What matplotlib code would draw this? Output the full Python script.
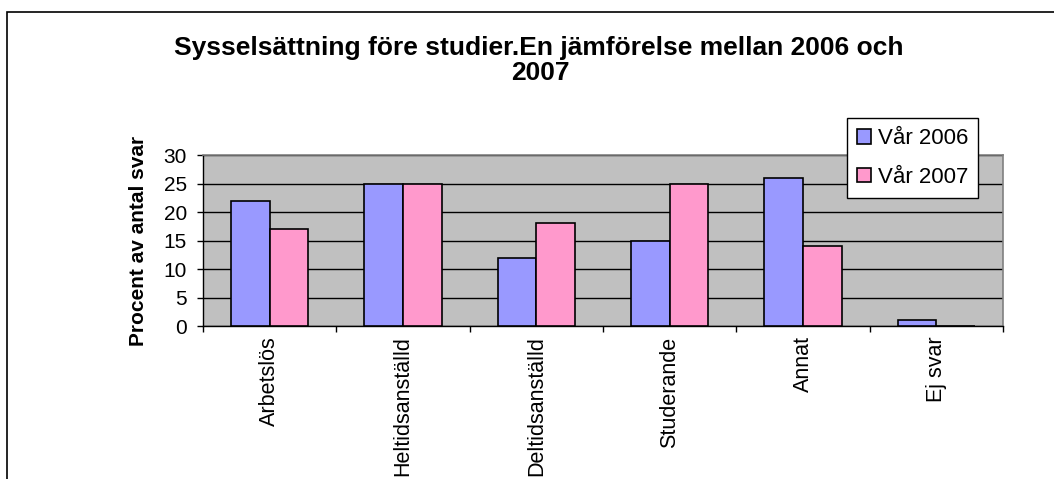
import numpy as np
import matplotlib.pyplot as plt
from matplotlib.patches import Rectangle

plt.rcParams['font.family'] = ['Liberation Sans', 'DejaVu Sans']

# ---------------------------------------------------------
# Data
# ---------------------------------------------------------
categories = ['Arbetslös', 'Heltidsanställd', 'Deltidsanställd', 'Studerande', 'Annat', 'Ej svar']
var_2006 = [22, 25, 12, 15, 26, 1]
var_2007 = [17, 25, 18, 25, 14, 0]
series_names = ['Vår 2006', 'Vår 2007']
colors = ['#9999FF', '#FF99CC']
yticks = [0, 5, 10, 15, 20, 25, 30]

# ---------------------------------------------------------
# Figure
# ---------------------------------------------------------
fig = plt.figure(figsize=(10.54, 4.79), dpi=100)
ax = fig.add_axes([0.1926, 0.3194, 0.759, 0.357])

x = np.arange(len(categories))
bar_width = 0.29
b1 = ax.bar(x - bar_width / 2, var_2006, bar_width, color=colors[0],
            edgecolor='black', linewidth=1.2, label=series_names[0], zorder=3)
b2 = ax.bar(x + bar_width / 2, var_2007, bar_width, color=colors[1],
            edgecolor='black', linewidth=1.2, label=series_names[1], zorder=3)

ax.set_facecolor('#C0C0C0')
ax.set_xlim(-0.5, len(categories) - 0.5)
ax.set_ylim(0, 30)
ax.set_yticks(yticks)
ax.tick_params(axis='y', labelsize=15, length=4.5, width=1, direction='out', pad=7)
ax.yaxis.grid(True, color='black', linewidth=1, zorder=1)

# category labels centered, ticks at category boundaries
ax.set_xticks(np.arange(len(categories) + 1) - 0.5)
ax.set_xticklabels([])
ax.set_xticks(x, minor=True)
ax.set_xticklabels(categories, minor=True, rotation=90, fontsize=15.5, va='top')
ax.tick_params(axis='x', which='major', length=4.5, width=1, direction='out')
ax.tick_params(axis='x', which='minor', length=0, pad=7.5)

for side in ['top', 'right']:
    ax.spines[side].set_color('#808080')
    ax.spines[side].set_linewidth(1.2)
for side in ['left', 'bottom']:
    ax.spines[side].set_color('black')
    ax.spines[side].set_linewidth(1)

ax.set_ylabel('Procent av antal svar', fontsize=15, fontweight='bold', labelpad=11)

fig.text(0.5114, 1 - 55 / 479, 'Sysselsättning före studier.En jämförelse mellan 2006 och',
         ha='center', va='baseline', fontsize=19, fontweight='bold')
fig.text(0.5124, 1 - 80.5 / 479, '2007', ha='center', va='baseline', fontsize=19, fontweight='bold')

leg = fig.legend(handles=[b1, b2], labels=series_names, loc='upper left',
                 bbox_to_anchor=(847 / 1054, 1 - 118 / 479), fontsize=16, frameon=True,
                 fancybox=False, edgecolor='black', framealpha=1,
                 handlelength=0.65, handleheight=0.65, handletextpad=0.3,
                 borderpad=0.45, labelspacing=0.8, borderaxespad=0)
leg.get_frame().set_linewidth(1)

# chart border (left and top visible)
fig.add_artist(Rectangle((7 / 1054, -0.1), 1.2, 1 - 12 / 479 + 0.1,
                         transform=fig.transFigure, fill=False,
                         edgecolor='black', linewidth=1.2))

fig.savefig('out.png', dpi=100)
